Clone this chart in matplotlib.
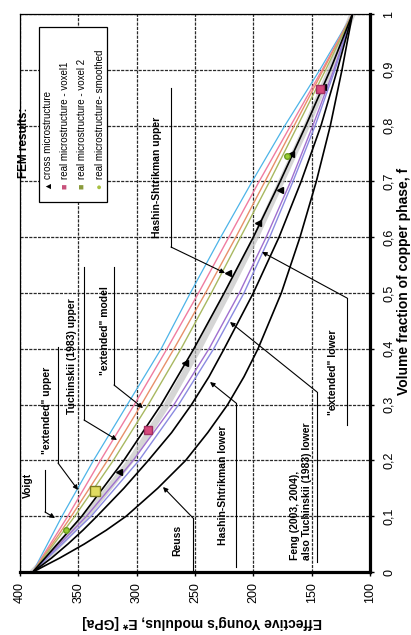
import matplotlib
matplotlib.use("Agg")
import matplotlib.pyplot as plt
from matplotlib.patches import Rectangle

plt.rcParams['font.family'] = ['Liberation Sans', 'DejaVu Sans']

# ---------------- data ----------------
f_frac = [0.0, 0.1, 0.2, 0.3, 0.4, 0.5, 0.6, 0.7, 0.8, 0.9, 1.0]
f_fine = [0.0, 0.025, 0.05, 0.075, 0.1, 0.15, 0.2, 0.25, 0.3, 0.35, 0.4,
          0.5, 0.6, 0.7, 0.8, 0.9, 1.0]

E_voigt = [389, 364, 337, 308, 279, 254, 228, 201, 173, 143, 115]
E_ext_upper = [389, 359, 331, 302, 274, 247, 221, 195, 168, 141, 115]
E_tuch_upper = [389, 356, 325, 296, 268, 241, 215, 190, 165, 140, 115]
E_ext_model = [389, 353, 320, 290, 262, 236, 211, 186, 162, 138, 115]
E_band = [389, 343, 305, 274, 247, 222, 198, 176, 154, 134, 115]
E_hs_upper = [389, 347, 311, 279, 251, 225, 200, 177, 155, 134, 115]
E_feng_lower = [389, 343, 303, 268, 238, 212, 189, 168, 149, 131, 115]
E_ext_lower = [389, 339, 298, 264, 234, 208, 186, 166, 147, 130, 115]
E_hs_lower = [389, 373, 359, 346, 334, 311, 290, 270, 253, 238, 225,
              200, 178, 159, 142, 128, 115]
E_reuss = [389, 366, 345, 326, 309, 282, 258, 239, 222, 208, 196,
           176, 160, 146, 134, 124, 115]

f_cross = [0.18, 0.375, 0.535, 0.625, 0.685, 0.75, 0.87]
E_cross = [315, 259, 222, 196, 177, 168, 140]
f_voxel1 = [0.255, 0.865]
E_voxel1 = [290, 143]
f_voxel2 = [0.145]
E_voxel2 = [336]
f_smooth = [0.075, 0.745]
E_smooth = [361, 171]

E_ticks = [400, 350, 300, 250, 200, 150, 100]
f_ticks = [0, 0.1, 0.2, 0.3, 0.4, 0.5, 0.6, 0.7, 0.8, 0.9, 1.0]
f_ticklabels = ["0", "0,1", "0,2", "0,3", "0,4", "0,5", "0,6", "0,7", "0,8", "0,9", "1"]

legend_labels = ["cross microstructure", "real microstructure - voxel1",
                 "real microstructure - voxel 2", "real microstructure- smoothed"]

# ---------------- figure ----------------
W, H = 411, 635
fig = plt.figure(figsize=(W / 100, H / 100), dpi=100)
ax = fig.add_axes([20 / W, 63 / H, 350 / W, 558 / H])
ax.set_xlim(400, 100)
ax.set_ylim(0, 1)

ax.set_axisbelow(True)
ax.grid(True, color='#2a2a2a', lw=0.9, ls=(0, (2.5, 1)))

# model curves (x = E, y = f ; chart is rotated)
ax.plot(E_band, f_frac, color='#c4c4c4', lw=4.5, alpha=0.7, solid_capstyle='round', zorder=2)
ax.plot(E_voigt, f_frac, color='#4db4e8', lw=0.9, zorder=3)
ax.plot(E_ext_upper, f_frac, color='#f07ca0', lw=1.0, zorder=3)
ax.plot(E_tuch_upper, f_frac, color='#e8906a', lw=1.0, zorder=3)
ax.plot(E_ext_model, f_frac, color='#a8b860', lw=1.0, zorder=3)
ax.plot(E_feng_lower, f_frac, color='#a070d0', lw=1.0, zorder=3)
ax.plot(E_ext_lower, f_frac, color='#8a8ae0', lw=1.0, zorder=3)
ax.plot(E_hs_upper, f_frac, color='black', lw=1.2, zorder=4)
ax.plot(E_hs_lower, f_fine, color='black', lw=1.2, zorder=4)
ax.plot(E_reuss, f_fine, color='black', lw=1.2, zorder=4)

# FEM results
ax.plot(E_cross, f_cross, ls='none', marker='<', ms=4.5, color='black', zorder=6)
ax.plot(E_voxel1, f_voxel1, ls='none', marker='s', ms=6, mfc='#d84a7c', mec='#a03060', zorder=6)
ax.plot(E_voxel2, f_voxel2, ls='none', marker='s', ms=7, mfc='#e0dc60', mec='#7a7a20', zorder=6)
ax.plot(E_smooth, f_smooth, ls='none', marker='o', ms=4, mfc='#9acd32', mec='#6a9a20', zorder=6)

# ticks
ax.set_xticks(E_ticks)
ax.set_xticklabels([str(v) for v in E_ticks], rotation=90, ha='center', va='top', fontsize=9)
ax.yaxis.tick_right()
ax.set_yticks(f_ticks)
ax.set_yticklabels(f_ticklabels, rotation=90, ha='left', va='center', fontsize=9)
ax.tick_params(axis='x', direction='out', length=3, width=1, pad=4.5)
ax.tick_params(axis='y', direction='out', length=3, width=1, pad=6.5)

for side, lw in [('bottom', 2.3), ('right', 2.3), ('top', 0.9), ('left', 0.9)]:
    ax.spines[side].set_linewidth(lw)

# axis labels
fig.text(202 / W, 1 - 622 / H, "Effective Young's modulus, E* [GPa]", rotation=180,
         ha='center', va='center', fontsize=10, fontweight='bold')
fig.text(404 / W, 1 - 281 / H, "Volume fraction of copper phase, f", rotation=90,
         ha='center', va='center', fontsize=10, fontweight='bold')

# annotations with leader lines (axes-fraction coordinates)
annots = [
    ("Voigt", (0.023, 0.156), [(0.0714, 0.1828), (0.0714, 0.1075)], (0.100, 0.0968)),
    ('"extended" upper', (0.0771, 0.2903), [(0.1086, 0.4032), (0.1086, 0.1953)], (0.1657, 0.1470)),
    ("Tuchinskii (1983) upper", (0.1486, 0.3871), [(0.1829, 0.5466), (0.1829, 0.2724)], (0.2771, 0.2366)),
    ('"extended" model', (0.2429, 0.4319), [(0.2686, 0.5466), (0.2686, 0.3351)], (0.3514, 0.2939)),
    ("Hashin-Shtrikman upper", (0.3914, 0.7079), [(0.4314, 0.8674), (0.4314, 0.5824)], (0.5857, 0.5358)),
    ("Reuss", (0.4486, 0.0573), [(0.4943, 0.0036), (0.4943, 0.0968)], (0.4086, 0.1523)),
    ("Hashin-Shtrikman lower", (0.580, 0.1559), [(0.6171, 0.009), (0.6171, 0.3029)], (0.5429, 0.3405)),
    ('"extended" lower', (0.8943, 0.3584), [(0.9343, 0.2634), (0.9343, 0.491)], (0.6914, 0.5735)),
    ("", None, [(0.8486, 0.0179), (0.8486, 0.3226)], (0.600, 0.448)),
]
for text, pos, pts, tip in annots:
    if text:
        ax.text(pos[0], pos[1], text, transform=ax.transAxes, rotation=90, ha='center', va='center',
                fontsize=7.5, fontweight='bold', zorder=7)
    xs = [p[0] for p in pts]
    ys = [p[1] for p in pts]
    ax.plot(xs, ys, transform=ax.transAxes, color='black', lw=0.8, zorder=7)
    ax.annotate('', xy=tip, xycoords='axes fraction', xytext=pts[-1], textcoords='axes fraction',
                arrowprops=dict(arrowstyle='-|>', lw=0.8, color='black', mutation_scale=7,
                                shrinkA=0, shrinkB=0), zorder=7)

ax.text(0.7857, 0.0215, "Feng (2003, 2004),", transform=ax.transAxes, rotation=90,
        ha='center', va='bottom', fontsize=7.5, fontweight='bold', zorder=7)
ax.text(0.820, 0.0215, "also Tuchinskii (1983) lower", transform=ax.transAxes, rotation=90,
        ha='center', va='bottom', fontsize=7.5, fontweight='bold', zorder=7)

# FEM legend (rotated)
ax.text(0.0114, 0.7688, "FEM results:", transform=ax.transAxes, rotation=90,
        ha='center', va='center', fontsize=8.5, fontweight='bold', zorder=8)
ax.add_patch(Rectangle((0.054, 0.663), 0.195, 0.314, transform=ax.transAxes,
                       facecolor='white', edgecolor='black', lw=0.9, zorder=8))
glyphs = ["\u25B2", "\u25A0", "\u25A0", "\u25CF"]
glyph_colors = ['black', '#c8507a', '#8a9a3a', '#a8c040']
entry_x = [0.080, 0.1286, 0.1771, 0.2286]
for gx, g, gc, lab in zip(entry_x, glyphs, glyph_colors, legend_labels):
    ax.text(gx, 0.686, g, transform=ax.transAxes, rotation=90, ha='center', va='bottom',
            fontsize=6.5, color=gc, zorder=9)
    ax.text(gx, 0.704, lab, transform=ax.transAxes, rotation=90, ha='center', va='bottom',
            fontsize=7, zorder=9)

fig.savefig("out.png", dpi=100, facecolor='white')
